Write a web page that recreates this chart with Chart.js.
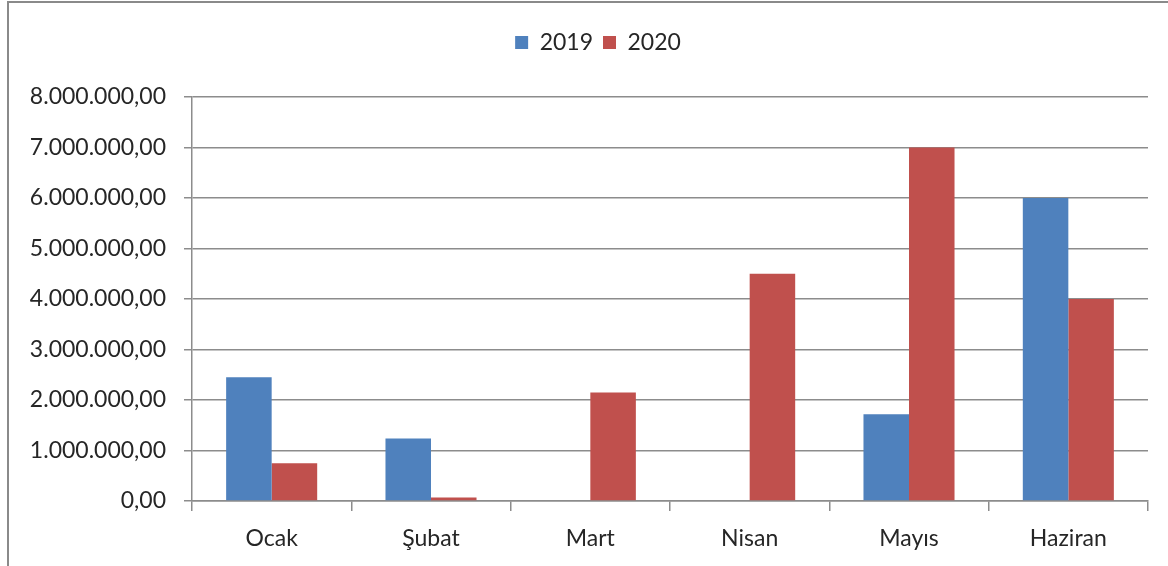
<!DOCTYPE html>
<html>
<head>
<meta charset="utf-8">
<script src="https://cdn.jsdelivr.net/npm/chart.js@4.4.0/dist/chart.umd.min.js"></script>
<style>
  html, body { margin: 0; padding: 0; background: #fff; }
  #wrap { position: relative; width: 1168px; height: 566px; overflow: hidden; }
  #frame { position: absolute; left: 7px; top: 1px; width: 1200px; height: 600px; border: 2px solid #8a8a8a; box-sizing: border-box; }
  canvas { position: absolute; left: 0; top: 0; }
</style>
</head>
<body>
<div id="wrap">
  <div id="frame"></div>
  <canvas id="chart" width="1168" height="566"></canvas>
</div>
<script>
  const months = ['Ocak', 'Şubat', 'Mart', 'Nisan', 'Mayıs', 'Haziran'];
  const values2019 = [2450000, 1240000, 0, 0, 1720000, 6000000];
  const values2020 = [750000, 70000, 2150000, 4500000, 7000000, 4000000];

  // Turkish style number: 8.000.000,00
  function formatTr(v) {
    const parts = Math.abs(v).toFixed(2).split('.');
    const whole = parts[0].replace(/\B(?=(\d{3})+(?!\d))/g, '.');
    return (v < 0 ? '-' : '') + whole + ',' + parts[1];
  }

  const font = { family: 'Lato', size: 23 };
  const textColor = '#262626';
  const gridColor = '#8c8c8c';

  // empty box under the legend, keeps the plot area lower;
  // also nudges the legend a bit to the right like the original
  const legendGap = {
    id: 'legendGap',
    beforeInit(chart) {
      Chart.layouts.addBox(chart, {
        position: 'top',
        weight: 0,
        fullSize: true,
        options: {},
        update(maxWidth) {
          this.width = maxWidth;
          this.height = 33;
        },
        isHorizontal() { return true; },
        draw() {},
      });
    },
    afterLayout(chart) {
      if (chart.legend) {
        chart.legend.left += 20;
        chart.legend.right += 20;
      }
    },
  };

  new Chart(document.getElementById('chart'), {
    type: 'bar',
    data: {
      labels: months,
      datasets: [
        { label: '2019', data: values2019, backgroundColor: '#4F81BD' },
        { label: '2020', data: values2020, backgroundColor: '#C0504D' },
      ],
    },
    plugins: [legendGap],
    options: {
      responsive: false,
      animation: false,
      layout: { padding: { top: 21, left: 8, right: 20, bottom: 0 } },
      datasets: {
        bar: { categoryPercentage: 2 / 3.5, barPercentage: 1 },
      },
      plugins: {
        legend: {
          position: 'top',
          labels: {
            font: font,
            color: textColor,
            boxWidth: 13,
            boxHeight: 13,
            padding: 10,
          },
        },
        tooltip: { enabled: false },
      },
      scales: {
        x: {
          offset: true,
          grid: {
            offset: true,
            drawOnChartArea: false,
            color: gridColor,
            tickLength: 10,
            lineWidth: 1.5,
          },
          border: { color: gridColor, width: 1.5 },
          ticks: { font: font, color: textColor, padding: 14 },
          afterFit(scale) { scale.height = 65; },
        },
        y: {
          min: 0,
          max: 8000000,
          grid: { color: gridColor, tickLength: 8, lineWidth: 1.5 },
          border: { color: gridColor, width: 1.5 },
          ticks: {
            stepSize: 1000000,
            font: font,
            color: textColor,
            padding: 18,
            callback: (v) => formatTr(v),
          },
          afterFit(scale) { scale.width = 184; },
        },
      },
    },
  });
</script>
</body>
</html>
